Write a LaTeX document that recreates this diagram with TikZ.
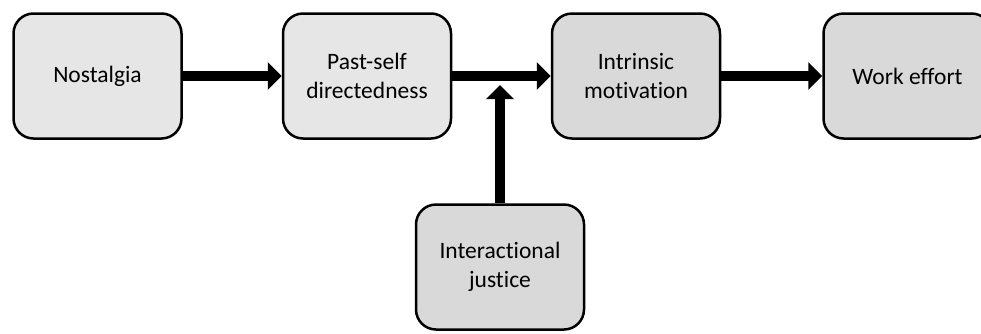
\documentclass[tikz,border=0pt]{standalone}
\usepackage{fontspec}
\setmainfont{Carlito}[Ligatures={NoCommon}]
\usetikzlibrary{arrows.meta}
\definecolor{boxlight}{HTML}{E6E6E6}
\definecolor{boxdark}{HTML}{D9D9D9}
\tikzset{
  stepbox/.style={draw=black, line width=2.5pt, rounded corners=20pt,
    minimum width=168pt, minimum height=125pt, align=center,
    font=\fontsize{23.5}{29}\selectfont, inner sep=2pt},
  light/.style={stepbox, fill=boxlight},
  dark/.style={stepbox, fill=boxdark},
  bigarrow/.style={line width=10pt, -{Triangle[length=14pt,width=27pt]}}
}
\begin{document}
\begin{tikzpicture}[x=1pt,y=-1pt]
\clip (0,0) rectangle (981,333);
\fill[white] (0,0) rectangle (981,333);
\node[light] (nos) at (97.5,76) {Nostalgia};
\node[light] (past) at (367,76) {Past-self\\directedness};
\node[dark] (intr) at (636,76) {Intrinsic\\motivation};
\node[dark] (work) at (907.5,76) {Work effort};
\node[dark] (jus) at (500,267) {Interactional\\justice};
\coordinate (jt) at (500,85);
\draw[bigarrow] (nos.east) -- (past.west);
\draw[bigarrow] (past.east) -- (intr.west);
\draw[bigarrow] (intr.east) -- (work.west);
\draw[bigarrow] (jus.north) -- (jt);
\end{tikzpicture}
\end{document}
